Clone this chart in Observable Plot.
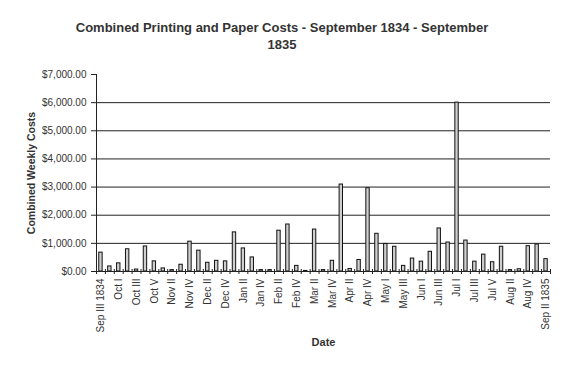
<!DOCTYPE html>
<html><head><meta charset="utf-8">
<script src="https://cdn.jsdelivr.net/npm/d3@7"></script>
<script src="https://cdn.jsdelivr.net/npm/@observablehq/plot@0.6"></script>
<style>
body{margin:0;background:#fff;width:564px;height:378px;overflow:hidden;font-family:"Liberation Sans",Arial,sans-serif;position:relative}
#title{position:absolute;left:0;top:19px;width:564px;text-align:center;font-weight:bold;font-size:13px;line-height:17px;color:#333}
#chart{position:absolute;left:0;top:60px}
</style></head><body>
<div id="title">Combined Printing and Paper Costs - September 1834 - September<br>1835</div>
<div id="chart"></div>
<script>
const weeks = ["Sep III 1834","Sep IV","Oct I","Oct II","Oct III","Oct IV","Oct V","Nov I","Nov II","Nov III","Nov IV","Dec I","Dec II","Dec III","Dec IV","Jan I","Jan II","Jan III","Jan IV","Feb I","Feb II","Feb III","Feb IV","Mar I","Mar II","Mar III","Mar IV","Apr I","Apr II","Apr III","Apr IV","Apr V","May I","May II","May III","May IV","Jun I","Jun II","Jun III","Jun IV","Jul I","Jul II","Jul III","Jul IV","Jul V","Aug I","Aug II","Aug III","Aug IV","Sep I","Sep II 1835"];
const costs = [670,180,290,790,70,890,360,110,50,240,1060,740,310,380,360,1390,820,500,50,50,1450,1670,200,20,1490,50,380,3090,90,410,2960,1340,980,880,200,460,350,700,1530,1030,6000,1100,350,600,330,880,50,80,900,960,440];
const yTicks = [0,1000,2000,3000,4000,5000,6000,7000];
const gridTicks = [1000,2000,3000,4000,5000,6000];
const labelWeeks = weeks.filter((d,i)=>i%2===0);
const data = weeks.map((w,i)=>({week:w,cost:costs[i]}));

const W=564,H=318,ML=96,MR=14,MT=14,MB=107;
const step=(W-ML-MR)/weeks.length;
const ink="#333";
const plot = Plot.plot({
  width:W,height:H,marginLeft:ML,marginRight:MR,marginTop:MT,marginBottom:MB,
  style:{fontFamily:"'Liberation Sans', Arial, sans-serif",fontSize:"10px",color:ink,background:"transparent"},
  x:{type:"band",domain:weeks,paddingInner:0.62,paddingOuter:0.31},
  y:{domain:[0,7000]},
  marks:[
    Plot.gridY({ticks:gridTicks,stroke:"#222",strokeOpacity:1}),
    Plot.barY(data,{x:"week",y:"cost",fill:"#cfcfcf",stroke:"#111",strokeWidth:1}),
    Plot.ruleY([0],{stroke:"#222"}),
    Plot.ruleX([weeks[0]],{x:d=>d,y1:0,y2:7000,dx:-step/2,stroke:"#222"}),
    Plot.axisY({ticks:yTicks,tickFormat:d3.format("$,.2f"),tickSize:5,tickPadding:5,label:null,stroke:"#222"}),
    Plot.axisX({ticks:weeks,tickSize:5,dx:-step/2,dy:-2,tickFormat:()=>"",label:null,stroke:"#222"}),
    Plot.axisX({ticks:[weeks[weeks.length-1]],tickSize:5,dx:step/2,dy:-2,tickFormat:()=>"",label:null,stroke:"#222"}),
    Plot.axisX({ticks:labelWeeks,tickSize:0,tickRotate:-90,tickPadding:7,label:null}),
    Plot.text(["Date"],{frameAnchor:"bottom",dy:74,textAnchor:"middle",fontWeight:"bold",fontSize:11,fill:ink}),
    Plot.text(["Combined Weekly Costs"],{frameAnchor:"left",dx:-65,rotate:-90,textAnchor:"middle",fontWeight:"bold",fontSize:10.5,fill:ink})
  ]
});
document.getElementById("chart").appendChild(plot);
</script>
</body></html>
